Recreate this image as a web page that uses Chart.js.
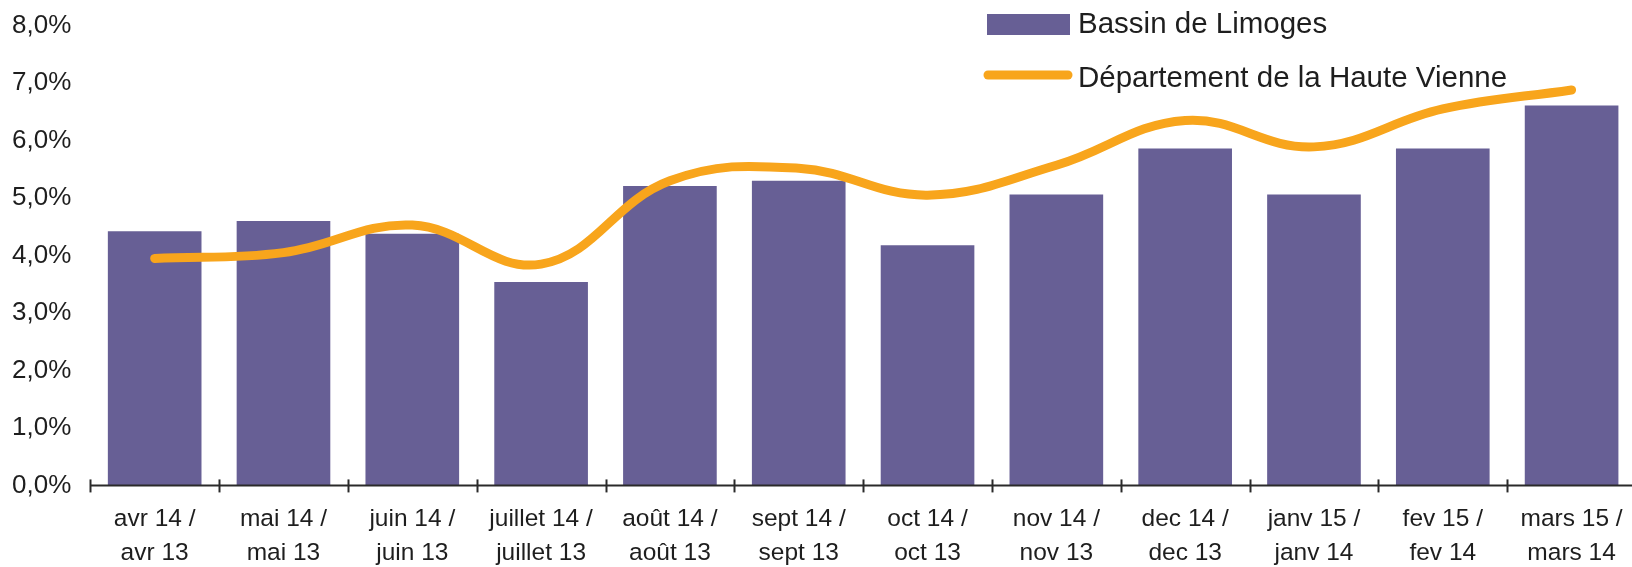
<!DOCTYPE html>
<html>
<head>
<meta charset="utf-8">
<script src="https://cdn.jsdelivr.net/npm/chart.js@4/dist/chart.umd.min.js"></script>
<style>
  html, body { margin: 0; padding: 0; background: #ffffff; overflow: hidden; }
  #wrap { position: absolute; left: -19px; top: -9px; width: 1659px; height: 596px; }
</style>
</head>
<body>
<div id="wrap"><canvas id="c" width="1659" height="596"></canvas></div>
<script>
// ---- Data ----
const categories = [
  ["avr 14 /", "avr 13"],
  ["mai 14 /", "mai 13"],
  ["juin 14 /", "juin 13"],
  ["juillet 14 /", "juillet 13"],
  ["août 14 /", "août 13"],
  ["sept 14 /", "sept 13"],
  ["oct 14 /", "oct 13"],
  ["nov 14 /", "nov 13"],
  ["dec 14 /", "dec 13"],
  ["janv 15 /", "janv 14"],
  ["fev 15 /", "fev 14"],
  ["mars 15 /", "mars 14"]
];
const bassinLabel = "Bassin de Limoges";
const bassinValues = [4.42, 4.60, 4.38, 3.54, 5.21, 5.30, 4.18, 5.06, 5.86, 5.06, 5.86, 6.61];
const departementLabel = "Département de la Haute Vienne";
const departementValues = [3.95, 4.05, 4.53, 3.85, 5.30, 5.52, 5.05, 5.57, 6.35, 5.89, 6.55, 6.88];
const yTickValues = [0, 1, 2, 3, 4, 5, 6, 7, 8];

// ---- Styles ----
const BAR_COLOR = '#675F95';
const LINE_COLOR = '#F8A51C';
const TEXT_COLOR = '#1e1e1e';
const FONT = "'Liberation Sans', Arial, sans-serif";
// canvas is offset within the page by the wrapper; legend coordinates are page coordinates
const OFFSET_X = 19, OFFSET_Y = 9;

const crossTicks = {
  id: 'crossTicks',
  afterDatasetsDraw(chart) {
    const x = chart.scales.x;
    const y0 = chart.scales.y.getPixelForValue(0);
    const ctx = chart.ctx;
    const n = chart.data.labels.length;
    ctx.save();
    ctx.strokeStyle = '#2a2a2a';
    ctx.lineWidth = 2;
    ctx.beginPath();
    ctx.moveTo(chart.chartArea.left, y0);
    ctx.lineTo(chart.chartArea.right, y0);
    ctx.stroke();
    const half = (x.getPixelForValue(1) - x.getPixelForValue(0)) / 2;
    for (let i = 0; i <= n; i++) {
      const px = (i < n ? x.getPixelForValue(i) - half : x.getPixelForValue(n - 1) + half);
      ctx.beginPath();
      ctx.moveTo(Math.round(px) + 0.5, y0 - 6);
      ctx.lineTo(Math.round(px) + 0.5, y0 + 7);
      ctx.stroke();
    }
    ctx.restore();
  }
};

const customLegend = {
  id: 'customLegend',
  afterDraw(chart) {
    const ctx = chart.ctx;
    const ds = chart.data.datasets;
    ctx.save();
    ctx.translate(OFFSET_X, OFFSET_Y);
    ctx.font = "29.5px " + FONT;
    ctx.textBaseline = 'middle';
    ctx.fillStyle = ds[1].backgroundColor;
    ctx.fillRect(987, 14, 83, 21);
    ctx.fillStyle = TEXT_COLOR;
    ctx.fillText(ds[1].label, 1078, 25);
    ctx.strokeStyle = ds[0].borderColor;
    ctx.lineWidth = 9;
    ctx.lineCap = 'round';
    ctx.beginPath();
    ctx.moveTo(988, 75);
    ctx.lineTo(1068, 75);
    ctx.stroke();
    ctx.fillText(ds[0].label, 1078, 79);
    ctx.restore();
  }
};

new Chart(document.getElementById('c'), {
  data: {
    labels: categories,
    datasets: [
      {
        type: 'line',
        label: departementLabel,
        data: departementValues,
        borderColor: LINE_COLOR,
        backgroundColor: LINE_COLOR,
        borderWidth: 9,
        borderCapStyle: 'round',
        borderJoinStyle: 'round',
        pointRadius: 0,
        tension: 0.4,
        fill: false,
        order: 0
      },
      {
        type: 'bar',
        label: bassinLabel,
        data: bassinValues,
        backgroundColor: BAR_COLOR,
        borderWidth: 0,
        barPercentage: 0.727,
        categoryPercentage: 1.0,
        order: 1
      }
    ]
  },
  options: {
    responsive: false,
    animation: false,
    devicePixelRatio: 1,
    layout: { autoPadding: false, padding: { left: 12, right: 4, top: 29.5, bottom: 0 } },
    plugins: {
      legend: { display: false },
      tooltip: { enabled: false },
      title: { display: false }
    },
    scales: {
      x: {
        type: 'category',
        offset: true,
        grid: { display: false, drawTicks: false, tickLength: 0 },
        border: { display: false },
        ticks: {
          color: TEXT_COLOR,
          padding: 16,
          maxRotation: 0,
          autoSkip: false,
          font: { family: FONT, size: 24.5, lineHeight: 1.42 }
        }
      },
      y: {
        min: 0,
        max: 8,
        afterBuildTicks(scale) { scale.ticks = yTickValues.map(v => ({ value: v })); },
        grid: { display: false, drawTicks: false, tickLength: 0 },
        border: { display: false },
        ticks: {
          color: TEXT_COLOR,
          padding: 19,
          font: { family: FONT, size: 26 },
          callback: v => v.toFixed(1).replace('.', ',') + '%'
        }
      }
    }
  },
  plugins: [crossTicks, customLegend]
});
</script>
</body>
</html>
